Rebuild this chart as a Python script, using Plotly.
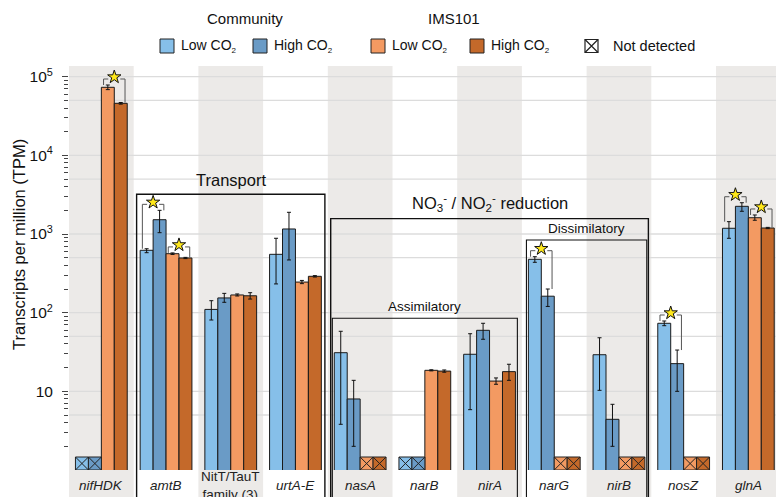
import math
import plotly.graph_objects as go

# ---------------- data ----------------
genes = ["nifHDK", "amtB", "NitT/TauT<br>family (3)", "urtA-E", "nasA", "narB",
         "nirA", "narG", "nirB", "nosZ", "glnA"]
italic = [True, True, False, True, True, True, True, True, True, True, True]

series_names = ["Community Low CO2", "Community High CO2", "IMS101 Low CO2", "IMS101 High CO2"]

comm_low    = [None, 621, 110, 552, 31.0, None, 29.6, 477, 29.2, 73.3, 1183]
comm_low_hi = [None, 650, 142, 883, 58.0, None, 54.0, 515, 48.0, 78.4, 1436]
comm_low_lo = [None, 579, 80.7, 232, 3.81, None, 5.85, 437, 10.3, 68.3, 882]

comm_high    = [None, 1520, 154, 1159, 8.0, None, 59.7, 162, 4.41, 22.5, 2250]
comm_high_hi = [None, 2000, 176, 1888, 13.8, None, 73.3, 200, 6.84, 33.5, 2500]
comm_high_lo = [None, 1040, 135.5, 468, 2.0, None, 45.9, 120, 2.0, 10.0, 1945]

ims_low    = [73300, 562, 168, 245, None, 18.5, 13.5, None, None, None, 1611]
ims_low_hi = [78400, 575, 173, 257, None, 18.8, 14.8, None, None, None, 1746]
ims_low_lo = [68500, 550, 163, 234, None, 18.2, 12.3, None, None, None, 1496]

ims_high    = [45900, 496, 164, 290, None, 18.1, 17.8, None, None, None, 1193]
ims_high_hi = [47000, 505, 179.5, 296, None, 18.7, 22.1, None, None, None, 1215]
ims_high_lo = [44800, 487, 149, 284, None, 17.5, 13.8, None, None, None, 1171]

# significant pairs: (gene index, series a, series b)
sig_pairs = [(0, 2, 3), (1, 0, 1), (1, 2, 3), (7, 0, 1), (9, 0, 1), (10, 0, 1), (10, 2, 3)]

# pathway groupings: (label, first gene, last gene, frame level in TPM, nested)
groups = [
    ("Transport", 1, 3, 3200, False),
    ("NO<sub>3</sub><sup>-</sup> / NO<sub>2</sub><sup>-</sup> reduction", 4, 8, 1567, False),
    ("Assimilatory", 4, 6, 85, True),
    ("Dissimilatory", 7, 8, 840, True),
]

ytick_vals = [10, 100, 1000, 10000, 100000]
ytick_text = ["10", "10<sup>2</sup>", "10<sup>3</sup>", "10<sup>4</sup>", "10<sup>5</sup>"]

# ---------------- style ----------------
colors = ["#86BFE9", "#6A9BC6", "#F39A62", "#C4692A"]
FONT = "Liberation Sans, Arial, sans-serif"
W, H = 776, 497
ML, MR, MT, MB = 69, 0, 66, 27
PW, PH = W - ML - MR, H - MT - MB
COLW = 64.7
XMIN = -0.5
XMAX = XMIN + PW / COLW
YMAX_LOG = 5.136
PPD = PH / YMAX_LOG  # pixels per decade
BW = 0.2
offsets = [-0.3, -0.1, 0.1, 0.3]
BAND = "#ECEAE8"
GRID = "#DCDCDC"


def px_x(px):
    return (px - ML) / PW


def px_y(py):
    return (H - MB - py) / PH


def dx_paper(x):
    return (x - XMIN) / (XMAX - XMIN)


def dy_paper(v):
    return math.log10(v) / YMAX_LOG


vals = [comm_low, comm_high, ims_low, ims_high]
his = [comm_low_hi, comm_high_hi, ims_low_hi, ims_high_hi]
los = [comm_low_lo, comm_high_lo, ims_low_lo, ims_high_lo]

fig = go.Figure()
shapes = []
annotations = []

# background bands (alternate columns)
PB = px_y(H)  # bottom of figure in paper coords
for i in range(len(genes)):
    if i % 2 == 0:
        x0 = max(0.0, dx_paper(i - 0.5))
        x1 = min(1.0, dx_paper(i + 0.5))
        shapes.append(dict(type="rect", xref="paper", yref="paper", x0=x0, x1=x1,
                           y0=PB, y1=1, fillcolor=BAND, line=dict(width=0), layer="below"))
# gridlines at 1 and 5 per decade
for k in range(0, 6):
    for m in (1, 5):
        v = m * 10 ** k
        if 1 < v and math.log10(v) <= YMAX_LOG:
            yp = dy_paper(v)
            shapes.append(dict(type="line", xref="paper", yref="paper", x0=0, x1=1, y0=yp, y1=yp,
                               line=dict(color=GRID, width=1.3), layer="below"))

# bars
ND_PX = 13
nd_y = 10 ** ((ND_PX / 2) / PPD)
for s in range(4):
    xs, ys, up, dn = [], [], [], []
    ndx = []
    for i, v in enumerate(vals[s]):
        x = i + offsets[s]
        if v is None:
            ndx.append(x)
            continue
        xs.append(x)
        ys.append(v)
        up.append(his[s][i] - v)
        dn.append(v - los[s][i])
    fig.add_trace(go.Bar(
        x=xs, y=ys, width=BW, name=series_names[s],
        marker=dict(color=colors[s], line=dict(color="#1a1a1a", width=1)),
        error_y=dict(type="data", symmetric=False, array=up, arrayminus=dn,
                     color="#111", thickness=1, width=2),
        showlegend=False))
    if ndx:
        fig.add_trace(go.Scatter(
            x=ndx, y=[nd_y] * len(ndx), mode="markers",
            marker=dict(symbol="square-x", size=ND_PX, color=colors[s],
                        line=dict(color="#222", width=1)),
            showlegend=False, hoverinfo="skip"))

# significance brackets with stars
LIFT = 10 ** (6 / PPD)
GAP = 6 / COLW
LEG = 0.33 * BW
bx, by, sx, sy = [], [], [], []
for g, a, b in sig_pairs:
    ta = his[a][g]
    tb = his[b][g]
    level = max(ta, tb) * LIFT
    xa = g + offsets[a] - LEG
    xb = g + offsets[b] + LEG
    xc = (g + offsets[a] + g + offsets[b]) / 2
    bx += [xa, xa, xc - GAP, None, xc + GAP, xb, xb, None]
    by += [ta, level, level, None, level, level, tb, None]
    sx.append(xc)
    sy.append(level * 10 ** (2 / PPD))
fig.add_trace(go.Scatter(x=bx, y=by, mode="lines", line=dict(color="#555", width=1),
                         showlegend=False, hoverinfo="skip"))
fig.add_trace(go.Scatter(x=sx, y=sy, mode="markers",
                         marker=dict(symbol="star", size=10, color="#FFE81A",
                                     line=dict(color="#111", width=1)),
                         showlegend=False, hoverinfo="skip"))

# group frames
for label, g0, g1, level, nested in groups:
    inset = 0.07 if nested else 0.045
    x0 = dx_paper(g0 - 0.5 + inset)
    x1 = dx_paper(g1 + 0.5 - inset)
    yt = dy_paper(level)
    shapes.append(dict(type="path", xref="paper", yref="paper",
                       path=f"M {x0},{PB} L {x0},{yt} L {x1},{yt} L {x1},{PB}",
                       line=dict(color="#111", width=1.4 if not nested else 1.1)))
    fs = 13.5 if nested else 16.5
    annotations.append(dict(text=label, xref="paper", yref="paper", x=(x0 + x1) / 2,
                            y=yt + (2 if nested else 3) / PH, xanchor="center", yanchor="bottom",
                            showarrow=False, font=dict(size=fs, color="#111", family=FONT)))

# gene labels
for i, gname in enumerate(genes):
    txt = f"<i>{gname}</i>" if italic[i] else gname
    annotations.append(dict(text=txt, xref="x", yref="paper", x=i, y=px_y(485),
                            xanchor="center", yanchor="middle", showarrow=False,
                            font=dict(size=13.5, color="#222", family=FONT)))

# y title
annotations.append(dict(text="Transcripts per million (TPM)", xref="paper", yref="paper",
                        x=px_x(19), y=px_y(245), textangle=-90, xanchor="center",
                        yanchor="middle", showarrow=False,
                        font=dict(size=16.5, color="#111", family=FONT)))

# custom legend
LY = 46
SW = 14
annotations.append(dict(text="Community", xref="paper", yref="paper", x=px_x(245), y=px_y(19),
                        xanchor="center", yanchor="middle", showarrow=False,
                        font=dict(size=15, color="#111", family=FONT)))
annotations.append(dict(text="IMS101", xref="paper", yref="paper", x=px_x(454), y=px_y(19),
                        xanchor="center", yanchor="middle", showarrow=False,
                        font=dict(size=15, color="#111", family=FONT)))
leg_x = [160, 253, 371, 470]
sub2 = "<sub><span style='font-size:8px'>2</span></sub>"
leg_txt = ["Low CO" + sub2, "High CO" + sub2, "Low CO" + sub2, "High CO" + sub2]
for s in range(4):
    x0 = leg_x[s]
    shapes.append(dict(type="rect", xref="paper", yref="paper",
                       x0=px_x(x0), x1=px_x(x0 + SW), y0=px_y(LY + SW / 2), y1=px_y(LY - SW / 2),
                       fillcolor=colors[s], line=dict(color="#222", width=1)))
    annotations.append(dict(text=leg_txt[s], xref="paper", yref="paper", x=px_x(x0 + SW + 5),
                            y=px_y(LY), xanchor="left", yanchor="middle", showarrow=False,
                            font=dict(size=14, color="#111", family=FONT)))
ndx0, nds = 585, 13
shapes.append(dict(type="rect", xref="paper", yref="paper",
                   x0=px_x(ndx0), x1=px_x(ndx0 + nds), y0=px_y(LY + nds / 2), y1=px_y(LY - nds / 2),
                   fillcolor="white", line=dict(color="#222", width=1.2)))
shapes.append(dict(type="path", xref="paper", yref="paper",
                   path=(f"M {px_x(ndx0)},{px_y(LY + nds / 2)} L {px_x(ndx0 + nds)},{px_y(LY - nds / 2)} "
                         f"M {px_x(ndx0)},{px_y(LY - nds / 2)} L {px_x(ndx0 + nds)},{px_y(LY + nds / 2)}"),
                   line=dict(color="#222", width=1.2)))
annotations.append(dict(text="Not detected", xref="paper", yref="paper", x=px_x(611), y=px_y(LY),
                        xanchor="left", yanchor="middle", showarrow=False,
                        font=dict(size=14.5, color="#111", family=FONT)))

minor_vals = [m * 10 ** k for k in range(0, 5) for m in range(2, 10)]

fig.update_layout(
    width=W, height=H, autosize=False,
    margin=dict(l=ML, r=MR, t=MT, b=MB, pad=0),
    paper_bgcolor="white", plot_bgcolor="rgba(0,0,0,0)",
    barmode="overlay", showlegend=False,
    font=dict(family=FONT, color="#111"),
    shapes=shapes, annotations=annotations,
    xaxis=dict(range=[XMIN, XMAX], visible=False, showgrid=False, zeroline=False),
    yaxis=dict(type="log", range=[0, YMAX_LOG], showgrid=False, zeroline=False, showline=False,
               tickmode="array", tickvals=ytick_vals, ticktext=ytick_text,
               ticks="outside", ticklen=6, tickwidth=1, tickcolor="#444",
               ticklabelstandoff=6,
               tickfont=dict(size=15.5, color="#111", family=FONT),
               minor=dict(tickmode="array", tickvals=minor_vals, ticks="outside", ticklen=4.5,
                          tickwidth=1, tickcolor="#444", showgrid=False)),
)

fig.write_html("out.html", config={"displayModeBar": False},
               post_script="document.body.style.margin='0px';")
